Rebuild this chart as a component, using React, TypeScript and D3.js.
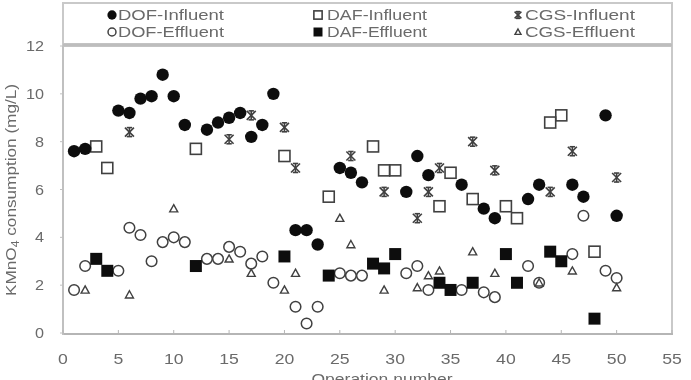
import React from "react";
import * as d3 from "d3";

const xTicks = [0, 5, 10, 15, 20, 25, 30, 35, 40, 45, 50, 55];
const yTicks = [0, 2, 4, 6, 8, 10, 12];

const dofInfluent: [number, number][] = [
  [1, 7.6], [2, 7.7], [5, 9.3], [6, 9.2], [7, 9.8], [8, 9.9], [9, 10.8], [10, 9.9],
  [11, 8.7], [13, 8.5], [14, 8.8], [15, 9.0], [16, 9.2], [17, 8.2], [18, 8.7], [19, 10.0],
  [21, 4.3], [22, 4.3], [23, 3.7], [25, 6.9], [26, 6.7], [27, 6.3], [31, 5.9], [32, 7.4],
  [33, 6.6], [36, 6.2], [38, 5.2], [39, 4.8], [42, 5.6], [43, 6.2], [46, 6.2], [47, 5.7],
  [49, 9.1], [50, 4.9],
];
const dofEffluent: [number, number][] = [
  [1, 1.8], [2, 2.8], [5, 2.6], [6, 4.4], [7, 4.1], [8, 3.0], [9, 3.8], [10, 4.0],
  [11, 3.8], [13, 3.1], [14, 3.1], [15, 3.6], [16, 3.4], [17, 2.9], [18, 3.2], [19, 2.1],
  [21, 1.1], [22, 0.4], [23, 1.1], [25, 2.5], [26, 2.4], [27, 2.4], [31, 2.5], [32, 2.8],
  [33, 1.8], [36, 1.8], [38, 1.7], [39, 1.5], [42, 2.8], [43, 2.1], [46, 3.3], [47, 4.9],
  [49, 2.6], [50, 2.3],
];
const dafInfluent: [number, number][] = [
  [3, 7.8], [4, 6.9], [12, 7.7], [20, 7.4], [24, 5.7], [28, 7.8], [29, 6.8], [30, 6.8],
  [34, 5.3], [35, 6.7], [37, 5.6], [40, 5.3], [41, 4.8], [44, 8.8], [45, 9.1], [48, 3.4],
];
const dafEffluent: [number, number][] = [
  [3, 3.1], [4, 2.6], [12, 2.8], [20, 3.2], [24, 2.4], [28, 2.9], [29, 2.7], [30, 3.3],
  [34, 2.1], [35, 1.8], [37, 2.1], [40, 3.3], [41, 2.1], [44, 3.4], [45, 3.0], [48, 0.6],
];
const cgsInfluent: [number, number][] = [
  [6, 8.4], [15, 8.1], [17, 9.1], [20, 8.6], [21, 6.9], [26, 7.4], [29, 5.9], [32, 4.8],
  [33, 5.9], [34, 6.9], [37, 8.0], [39, 6.8], [44, 5.9], [46, 7.6], [50, 6.5],
];
const cgsEffluent: [number, number][] = [
  [2, 1.8], [6, 1.6], [10, 5.2], [15, 3.1], [17, 2.5], [20, 1.8], [21, 2.5], [25, 4.8],
  [26, 3.7], [29, 1.8], [32, 1.9], [33, 2.4], [34, 2.6], [37, 3.4], [39, 2.5], [43, 2.1],
  [46, 2.6], [50, 1.9],
];

const legendLabels = [
  ["DOF-Influent", "DOF-Effluent"],
  ["DAF-Influent", "DAF-Effluent"],
  ["CGS-Influent", "CGS-Effluent"],
];

const INK = "#111";
const OPEN = "#404040";
const TEXT = "#6a6a6a";
const FONT = "'Liberation Sans', Arial, sans-serif";

type Kind = "fcircle" | "ocircle" | "osquare" | "fsquare" | "star" | "tri";

function Marker({ kind, x, y, s = 1 }: { kind: Kind; x: number; y: number; s?: number }) {
  switch (kind) {
    case "fcircle":
      return <circle cx={x} cy={y} r={6.2 * s} fill={INK} />;
    case "ocircle":
      return <circle cx={x} cy={y} r={5.3 * s} fill="none" stroke={OPEN} strokeWidth={1.5} />;
    case "osquare": {
      const h = 5.5 * s;
      return <rect x={x - h} y={y - h} width={2 * h} height={2 * h} fill="none" stroke={OPEN} strokeWidth={1.6} />;
    }
    case "fsquare": {
      const h = 6 * s;
      return <rect x={x - h} y={y - h} width={2 * h} height={2 * h} fill={INK} />;
    }
    case "star": {
      const h = 4.5 * s;
      return (
        <g stroke={OPEN} strokeWidth={1.6} fill="none">
          <line x1={x - h} y1={y - h} x2={x + h} y2={y + h} />
          <line x1={x - h} y1={y + h} x2={x + h} y2={y - h} />
          <line x1={x} y1={y - h} x2={x} y2={y + h} />
          <line x1={x - h * 0.6} y1={y - h} x2={x + h * 0.6} y2={y - h} />
          <line x1={x - h * 0.6} y1={y + h} x2={x + h * 0.6} y2={y + h} />
        </g>
      );
    }
    case "tri": {
      const h = 4 * s;
      return (
        <path
          d={`M${x},${y - h} L${x + h},${y + h * 0.8} L${x - h},${y + h * 0.8} Z`}
          fill="none"
          stroke={OPEN}
          strokeWidth={1.4}
        />
      );
    }
  }
  return null;
}

export default function App() {
  const W = 691;
  const H = 380;
  const left = 63, right = 672, top = 46, bottom = 333;
  const x = d3.scaleLinear().domain([0, 55]).range([left, right]);
  const y = d3.scaleLinear().domain([0, 12]).range([bottom, top]);

  const series: { data: [number, number][]; kind: Kind }[] = [
    { data: dafInfluent, kind: "osquare" },
    { data: cgsInfluent, kind: "star" },
    { data: dofInfluent, kind: "fcircle" },
    { data: dofEffluent, kind: "ocircle" },
    { data: dafEffluent, kind: "fsquare" },
    { data: cgsEffluent, kind: "tri" },
  ];

  const legendKinds: Kind[][] = [
    ["fcircle", "ocircle"],
    ["osquare", "fsquare"],
    ["star", "tri"],
  ];
  const legendMarkerX = [112, 318, 518];
  const legendTextX = [118, 327, 525];
  const legendTextLen = [106, 100, 110];
  const legendRowY = [15, 32];

  return (
    <svg
      width={W}
      height={H}
      style={{ position: "absolute", left: 0, top: 0, background: "#fff" }}
      fontFamily={FONT}
    >
      <defs>
        <filter id="soft" x="-5%" y="-5%" width="110%" height="110%">
          <feGaussianBlur stdDeviation="0.45" />
        </filter>
      </defs>
      <rect x={0} y={0} width={W} height={H} fill="#fff" />
      <g filter="url(#soft)">
        {/* legend box */}
        <rect x={left} y={3} width={right - left} height={41} fill="#fff" stroke="#c9c9c9" strokeWidth={2} />
        {legendLabels.map((pair, ci) =>
          pair.map((lab, ri) => (
            <g key={lab}>
              <Marker kind={legendKinds[ci][ri]} x={legendMarkerX[ci]} y={legendRowY[ri]} s={0.75} />
              <text
                x={legendTextX[ci]}
                y={legendRowY[ri] + 5}
                fontSize={14}
                fill={TEXT}
                textLength={legendTextLen[ci]}
                lengthAdjust="spacingAndGlyphs"
              >
                {lab}
              </text>
            </g>
          ))
        )}

        {/* plot frame */}
        <rect x={left} y={top} width={right - left} height={bottom - top + 1} fill="none" stroke="#c9c9c9" strokeWidth={2} />
        <line x1={left} x2={right} y1={top - 1} y2={top - 1} stroke="#bdbdbd" strokeWidth={3} />
        <line x1={left} x2={right + 1} y1={bottom + 1} y2={bottom + 1} stroke="#b5b5b5" strokeWidth={2} />
        <line x1={left} x2={left} y1={top} y2={bottom + 2} stroke="#c0c0c0" strokeWidth={2} />

        {/* x ticks */}
        {xTicks.map((t) => (
          <g key={"x" + t}>
            <line x1={x(t)} x2={x(t)} y1={bottom - 3} y2={bottom + 1} stroke="#b5b5b5" strokeWidth={1} />
            <text
              x={x(t)}
              y={364}
              fontSize={15}
              fill={TEXT}
              textAnchor="middle"
              textLength={String(t).length * 9.8}
              lengthAdjust="spacingAndGlyphs"
            >
              {t}
            </text>
          </g>
        ))}
        {/* y ticks */}
        {yTicks.map((t) => (
          <g key={"y" + t}>
            <line x1={left - 3} x2={left} y1={y(t)} y2={y(t)} stroke="#c0c0c0" strokeWidth={1} />
            <text
              x={44}
              y={y(t) + 5}
              fontSize={15}
              fill={TEXT}
              textAnchor="end"
              textLength={String(t).length * 9}
              lengthAdjust="spacingAndGlyphs"
            >
              {t}
            </text>
          </g>
        ))}

        {/* axis titles */}
        <text
          transform="translate(16,190) rotate(-90)"
          fontSize={14}
          fill={TEXT}
          textAnchor="middle"
          textLength={212}
          lengthAdjust="spacingAndGlyphs"
        >
          KMnO<tspan fontSize={10} dy={3}>4</tspan>
          <tspan dy={-3}> consumption (mg/L)</tspan>
        </text>
        <text
          x={382}
          y={384}
          fontSize={15}
          fill={TEXT}
          textAnchor="middle"
          textLength={141}
          lengthAdjust="spacingAndGlyphs"
        >
          Operation number
        </text>

        {/* data */}
        {series.map((s, si) => (
          <g key={si}>
            {s.data.map((d, i) => (
              <Marker key={i} kind={s.kind} x={x(d[0])} y={y(d[1])} />
            ))}
          </g>
        ))}
      </g>
    </svg>
  );
}
